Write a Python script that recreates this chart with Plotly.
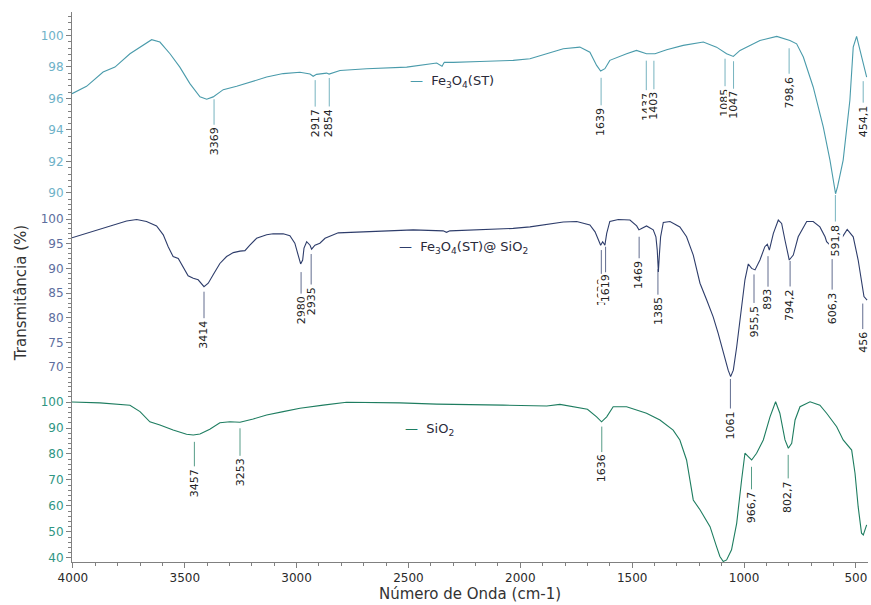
import numpy as np
import plotly.graph_objects as go

# ---------------- data ----------------
# Fe3O4(ST)
fe_wn = [4004, 3939, 3865, 3812, 3745, 3700, 3648, 3611, 3566, 3522, 3477, 3432, 3402, 3373,
         3328, 3268, 3209, 3134, 3060, 2985, 2940, 2926, 2911, 2866, 2855, 2806, 2687, 2508,
         2374, 2350, 2340, 2300, 2181, 2032, 1957, 1882, 1823, 1808, 1734, 1689, 1659, 1641,
         1622, 1600, 1525, 1481, 1436, 1398, 1346, 1272, 1182, 1123, 1078, 1048, 1018, 929,
         854, 795, 765, 735, 691, 646, 616, 597, 591, 582, 557, 527, 512, 497, 482, 467, 452]
fe_t = [96.3, 96.77, 97.68, 97.99, 98.84, 99.26, 99.73, 99.58, 98.84, 97.99, 96.94, 96.10, 95.95, 96.10,
        96.56, 96.77, 97.04, 97.36, 97.58, 97.66, 97.55, 97.41, 97.53, 97.61, 97.55, 97.78, 97.89, 97.99,
        98.25, 98.05, 98.30, 98.29, 98.35, 98.42, 98.52, 98.84, 99.09, 99.16, 99.26, 98.94, 98.10, 97.74,
        97.89, 98.42, 98.84, 99.05, 98.84, 98.84, 99.09, 99.37, 99.58, 99.26, 98.84, 98.67, 99.05, 99.68,
        99.94, 99.68, 99.47, 98.63, 96.73, 94.20, 92.09, 90.30, 89.95, 90.40, 92.09, 95.89, 99.26, 99.94,
        99.05, 98.21, 97.36]

# Fe3O4(ST)@SiO2
fesi_wn = [4004, 3939, 3879, 3820, 3760, 3715, 3671, 3626, 3596, 3574, 3552, 3529, 3507, 3485, 3462,
           3440, 3414, 3395, 3373, 3343, 3313, 3283, 3253, 3231, 3209, 3179, 3134, 3105, 3060, 3030,
           3008, 2993, 2982, 2973, 2967, 2955, 2940, 2933, 2918, 2896, 2873, 2814, 2628, 2479, 2345,
           2330, 2315, 2181, 2032, 1957, 1882, 1808, 1748, 1689, 1666, 1652, 1641, 1632, 1622, 1614,
           1600, 1562, 1510, 1480, 1470, 1458, 1436, 1406, 1394, 1388, 1383, 1379, 1373, 1361, 1331,
           1287, 1257, 1227, 1197, 1167, 1138, 1116, 1093, 1071, 1060, 1048, 1033, 1011, 996, 981,
           966, 951, 929, 907, 896, 887, 869, 847, 832, 817, 798, 780, 758, 720, 691, 661, 638, 631,
           615, 606, 590, 575, 560, 539, 512, 490, 464, 450]
fesi_t = [96.2, 97.1, 97.9, 98.8, 99.6, 99.9, 99.5, 98.6, 96.8, 94.4, 92.4, 92.0, 90.3, 88.5, 88.0,
          87.7, 86.3, 87.0, 88.7, 91.0, 92.4, 93.2, 93.5, 93.6, 94.7, 96.1, 96.8, 97.0, 97.0, 96.6,
          95.1, 92.7, 90.9, 91.7, 94.1, 95.4, 94.7, 93.9, 94.7, 95.1, 96.1, 97.2, 97.6, 97.8, 97.6,
          97.3, 97.6, 97.8, 98.1, 98.4, 98.9, 99.4, 99.5, 98.8, 97.4, 95.7, 94.7, 95.4, 94.7, 97.1,
          99.5, 99.9, 99.8, 98.6, 97.8, 98.1, 98.6, 97.8, 96.4, 93.7, 89.3, 92.4, 96.4, 99.3, 99.5,
          98.4, 96.4, 92.7, 87.0, 83.6, 80.2, 76.9, 72.8, 69.4, 68.1, 69.4, 74.1, 81.6, 87.7, 90.9,
          90.0, 89.7, 91.7, 94.4, 94.9, 93.7, 97.1, 99.8, 99.1, 95.7, 91.7, 92.7, 96.4, 99.5, 99.5,
          98.4, 96.4, 95.4, 94.6, 94.3, 95.2, 96.0, 96.4, 97.9, 96.4, 91.7, 84.3, 83.6]

# SiO2
si_wn = [4004, 3879, 3745, 3700, 3656, 3611, 3552, 3492, 3462, 3432, 3388, 3343, 3298, 3253, 3194,
         3134, 3060, 2985, 2881, 2777, 2538, 2374, 2076, 1882, 1823, 1760, 1700, 1659, 1637, 1614,
         1585, 1525, 1436, 1376, 1317, 1287, 1257, 1242, 1227, 1197, 1152, 1123, 1108, 1093, 1078,
         1056, 1033, 1011, 996, 981, 966, 944, 914, 884, 859, 840, 817, 802, 787, 772, 750, 705,
         661, 631, 586, 557, 519, 504, 490, 475, 467, 452]
si_t = [100.0, 99.7, 98.8, 96.3, 92.4, 91.2, 89.2, 87.6, 87.3, 87.7, 89.5, 92.0, 92.4, 92.2, 93.5,
        95.0, 96.3, 97.6, 98.8, 99.9, 99.7, 99.2, 98.8, 98.5, 99.1, 98.2, 97.2, 94.3, 92.4, 94.3,
        98.2, 98.2, 95.7, 93.1, 89.2, 85.4, 77.7, 70.0, 62.3, 58.5, 52.0, 44.3, 40.5, 38.6, 39.2,
        43.1, 53.3, 70.0, 80.3, 79.0, 77.7, 80.3, 85.4, 94.3, 100.1, 95.7, 85.4, 82.2, 84.1, 93.1,
        98.2, 100.1, 98.8, 95.7, 90.5, 85.4, 81.5, 72.6, 59.7, 49.5, 48.8, 52.7]

# marked peaks
fe_peaks = [3369, 2917, 2854, 1639, 1437, 1403, 1085, 1047, 798.6, 591.8, 454.1]
fe_peak_labels = ["3369", "2917", "2854", "1639", "1437", "1403", "1085", "1047", "798,6", "591,8", "454,1"]
fesi_peaks = [3414, 2980, 2935, 1638, 1619, 1469, 1385, 1061, 955.5, 893, 794.2, 606.3, 456]
fesi_peak_labels = ["3414", "2980", "2935", "1638", "1619", "1469", "1385", "1061", "955,5", "893",
                    "794,2", "606,3", "456"]
si_peaks = [3457, 3253, 1636, 966.7, 802.7]
si_peak_labels = ["3457", "3253", "1636", "966,7", "802,7"]

x_tick_vals = [4000, 3500, 3000, 2500, 2000, 1500, 1000, 500]

# ---------------- styling / placement (pixels) ----------------
FONT = "DejaVu Sans"
AXIS_GREY = "#808080"
# (gap below curve, line length) for each marked peak, in px
fe_offsets = [(3, 27), (5, 28), (4, 30), (7, 29), (7, 31), (7, 30), (6, 29), (5, 29), (8, 27), (2, 28), (6, 23)]
fesi_offsets = [(5, 28), (9, 23), (6, 32), (6, 27), (6, 27), (7, 23), (6, 27), (3, 31), (5, 30), (10, 32),
                (2, 27), (12, 32), (5, 27)]
si_offsets = [(7, 26), (6, 29), (5, 27), (7, 24), (7, 25)]

series = [
    dict(name="Fe<sub>3</sub>O<sub>4</sub>(ST)", wn=fe_wn, t=fe_t, yaxis="y", color="#4a9bab",
         tickcolor="#6fb2c8", peaks=fe_peaks, labels=fe_peak_labels, offsets=fe_offsets,
         leg=(2502, 97.05)),
    dict(name="Fe<sub>3</sub>O<sub>4</sub>(ST)@ SiO<sub>2</sub>", wn=fesi_wn, t=fesi_t, yaxis="y2",
         color="#2e3d6b", tickcolor="#5d6e9e", peaks=fesi_peaks, labels=fesi_peak_labels,
         offsets=fesi_offsets, leg=(2552, 94.3)),
    dict(name="SiO<sub>2</sub>", wn=si_wn, t=si_t, yaxis="y3", color="#1e7d60",
         tickcolor="#2f9683", peaks=si_peaks, labels=si_peak_labels, offsets=si_offsets,
         leg=(2525, 89.6)),
]

fig = go.Figure()
annotations = []
for s in series:
    fig.add_trace(go.Scatter(x=s["wn"], y=s["t"], mode="lines", xaxis="x", yaxis=s["yaxis"],
                             line=dict(color=s["color"], width=1.1), showlegend=False,
                             hoverinfo="skip"))
    wn_asc = np.array(s["wn"][::-1], dtype=float)
    t_asc = np.array(s["t"][::-1], dtype=float)
    for p, lab, (gap, length) in zip(s["peaks"], s["labels"], s["offsets"]):
        yv = float(np.interp(p, wn_asc, t_asc))
        xs = -3 if p < 470 else 0
        # thin marker line below the band
        annotations.append(dict(x=p, y=yv, xref="x", yref=s["yaxis"], text="", showarrow=True,
                                arrowhead=0, arrowwidth=1, arrowcolor=s["color"], opacity=0.75,
                                ax=0, ay=gap + length, standoff=gap, xshift=xs))
        # rotated peak label hanging from the end of the line
        annotations.append(dict(x=p, y=yv, xref="x", yref=s["yaxis"], text=lab, showarrow=False,
                                textangle=-90, xanchor="center", yanchor="top",
                                yshift=-(gap + length), xshift=xs, bgcolor="white", borderpad=0,
                                font=dict(family=FONT, size=11, color="#222222")))
    annotations.append(dict(x=s["leg"][0], y=s["leg"][1], xref="x", yref=s["yaxis"],
                            text=f"<span style='color:{s['color']}'>—</span>\u00a0\u00a0{s['name']}",
                            showarrow=False, xanchor="left", yanchor="middle",
                            font=dict(family=FONT, size=13, color="#2a2a3a")))


def yaxis(domain, rng, dtick, minor_dtick, color, **kw):
    d = dict(domain=domain, range=rng, dtick=dtick, tick0=0, anchor="x", showline=True,
             linecolor=AXIS_GREY, linewidth=1, ticks="outside", ticklen=5, tickcolor=AXIS_GREY,
             showgrid=False, zeroline=False, tickfont=dict(family=FONT, size=12, color=color),
             minor=dict(dtick=minor_dtick, tick0=0, ticks="outside", ticklen=3, tickcolor=AXIS_GREY,
                        showgrid=False))
    d.update(kw)
    return d


fig.update_layout(
    width=871, height=605,
    margin=dict(l=72, r=3, t=12, b=43, autoexpand=False),
    paper_bgcolor="white", plot_bgcolor="white",
    font=dict(family=FONT, color="#333333"),
    xaxis=dict(range=[4004, 446], anchor="y3", tickvals=x_tick_vals, showline=True,
               linecolor=AXIS_GREY, linewidth=1, ticks="outside", ticklen=5, tickcolor=AXIS_GREY,
               showgrid=False, zeroline=False,
               tickfont=dict(family=FONT, size=12, color="#2a2a2a"),
               minor=dict(dtick=100, tick0=0, ticks="outside", ticklen=3, tickcolor=AXIS_GREY,
                          showgrid=False),
               title=dict(text="Número de Onda (cm-1)", font=dict(family=FONT, size=15, color="#333333"),
                          standoff=2)),
    yaxis=yaxis([0.6618, 1.0], [89.68, 101.49], 2, 0.4, series[0]["tickcolor"]),
    yaxis2=yaxis([0.3182, 0.6618], [66.0, 104.25], 5, 1, series[1]["tickcolor"],
                 title=dict(text="Transmitância (%)", font=dict(family=FONT, size=15, color="#333333"),
                            standoff=10)),
    yaxis3=yaxis([0.0, 0.3182], [38.4, 105.8], 10, 2, series[2]["tickcolor"]),
    annotations=annotations,
    showlegend=False,
)

fig.write_html("out.html", config={"displayModeBar": False},
               post_script="document.body.style.margin='0';")
